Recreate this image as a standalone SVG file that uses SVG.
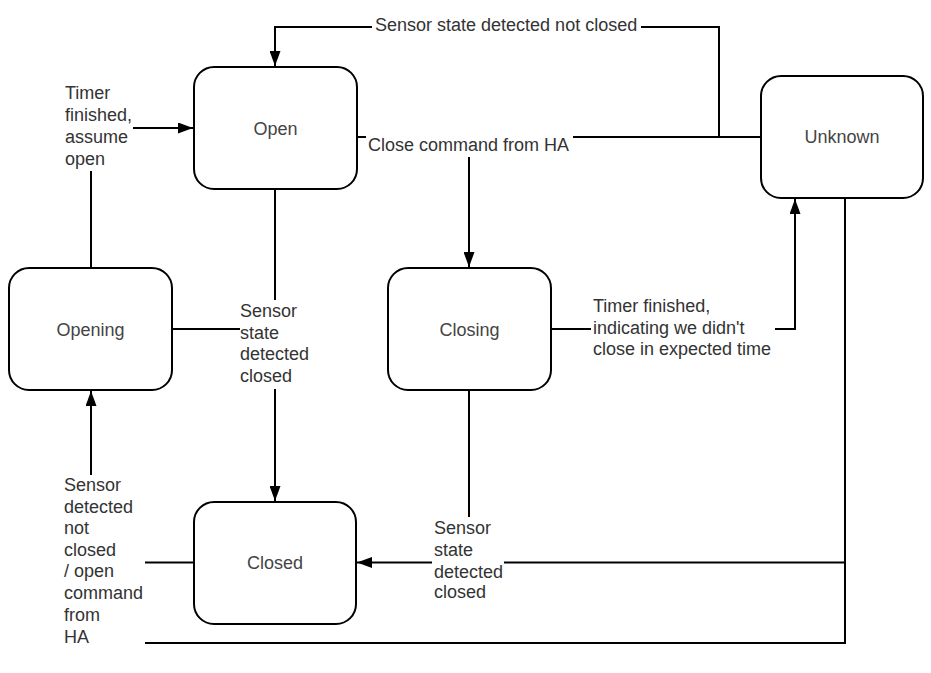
<svg xmlns="http://www.w3.org/2000/svg" width="931" height="673" viewBox="0 0 931 673">
<style>
.node rect{fill:#fff;stroke:#000;stroke-width:2}
.node text{font-family:"Liberation Sans",Arial,sans-serif;font-size:18px;fill:#444;text-anchor:middle}
.edge{fill:none;stroke:#000;stroke-width:2}
.lbg{fill:#fff}
.lbl{font-family:"Liberation Sans",Arial,sans-serif;font-size:18px;fill:#333}
</style>
<defs>
<marker id="arr" markerUnits="userSpaceOnUse" markerWidth="16" markerHeight="11" refX="15" refY="5.5" orient="auto">
<path d="M0,0 L15,5.5 L0,11 z" fill="#000"/>
</marker>
</defs>
<rect width="931" height="673" fill="#fff"/>
<g id="connectors">
<path class="edge" d="M761,137 H719 V27 H275 V66" marker-end="url(#arr)"/>
<path class="edge" d="M469,137 H719"/>
<path class="edge" d="M357,137 H469 V267" marker-end="url(#arr)"/>
<path class="edge" d="M91,268 V128 H193" marker-end="url(#arr)"/>
<path class="edge" d="M275,189 V501" marker-end="url(#arr)"/>
<path class="edge" d="M172,329 H240"/>
<path class="edge" d="M551,329 H795 V199" marker-end="url(#arr)"/>
<path class="edge" d="M469,390 V562.5 H357" marker-end="url(#arr)"/>
<path class="edge" d="M845,198 V562.5 H469"/>
<path class="edge" d="M845,562.5 V643 H140"/>
<path class="edge" d="M194,562.5 H91 V391" marker-end="url(#arr)"/>
<g id="labels">
<rect class="lbg" x="372" y="16" width="269" height="21"/>
<text class="lbl" x="375" y="31">Sensor state detected not closed</text>
<rect class="lbg" x="366" y="134" width="207" height="23"/>
<text class="lbl" x="368" y="151">Close command from HA</text>
<rect class="lbg" x="62" y="82" width="71" height="89"/>
<text class="lbl" x="65" y="99">Timer<tspan x="65" y="121">finished,</tspan><tspan x="65" y="143">assume</tspan><tspan x="65" y="164.5">open</tspan></text>
<rect class="lbg" x="240" y="300" width="71" height="89"/>
<text class="lbl" x="240" y="317">Sensor<tspan x="240" y="338.5">state</tspan><tspan x="240" y="360">detected</tspan><tspan x="240" y="381.5">closed</tspan></text>
<rect class="lbg" x="591" y="295" width="184" height="67"/>
<text class="lbl" x="593" y="312">Timer finished,<tspan x="593" y="333.5">indicating we didn't</tspan><tspan x="593" y="355">close in expected time</tspan></text>
<rect class="lbg" x="432" y="517" width="72" height="88"/>
<text class="lbl" x="434" y="534">Sensor<tspan x="434" y="555.7">state</tspan><tspan x="434" y="577.5">detected</tspan><tspan x="434" y="598">closed</tspan></text>
<rect class="lbg" x="62" y="475" width="83" height="175"/>
<text class="lbl" x="64" y="491">Sensor<tspan x="64" y="512.5">detected</tspan><tspan x="64" y="534">not</tspan><tspan x="64" y="555.7">closed</tspan><tspan x="64" y="577.3">/ open</tspan><tspan x="64" y="599">command</tspan><tspan x="64" y="620.7">from</tspan><tspan x="64" y="642.5">HA</tspan></text>
</g>
</g>
<g id="node-open" class="node"><rect x="194" y="67" width="163" height="122" rx="20"/><text x="275.5" y="134.5">Open</text></g>
<g id="node-unknown" class="node"><rect x="761" y="76" width="162" height="122" rx="20"/><text x="842" y="142.5">Unknown</text></g>
<g id="node-opening" class="node"><rect x="9" y="268" width="163" height="122" rx="20"/><text x="90.5" y="335.5">Opening</text></g>
<g id="node-closing" class="node"><rect x="388" y="268" width="163" height="122" rx="20"/><text x="469.5" y="335.5">Closing</text></g>
<g id="node-closed" class="node"><rect x="194" y="502" width="162" height="122" rx="20"/><text x="275" y="569">Closed</text></g>
</svg>
